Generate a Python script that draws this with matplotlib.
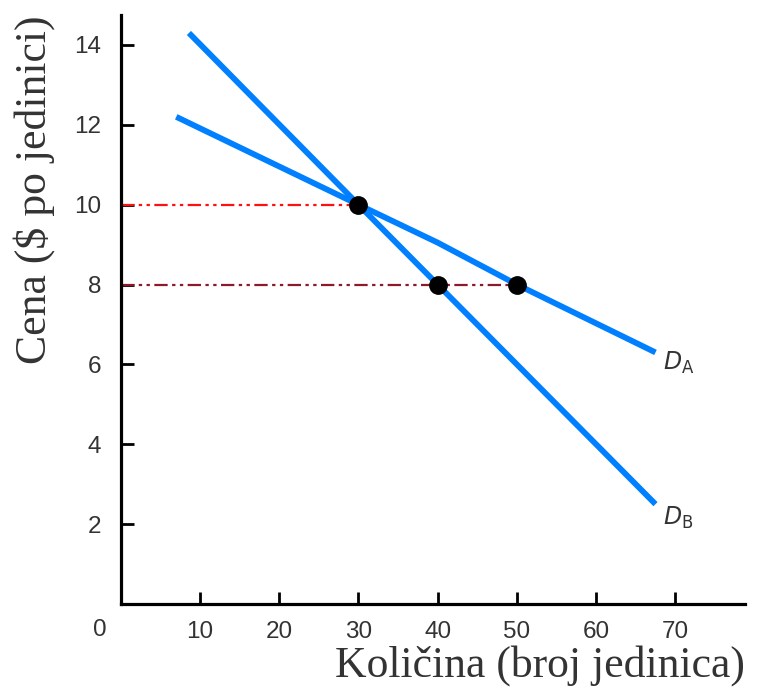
import matplotlib
matplotlib.use("Agg")
import matplotlib.pyplot as plt

# Data
qA = [7, 30, 40, 50, 67.5]
pA = [12.2, 10, 9.05, 8, 6.3]
qB = [8.6, 30, 40, 67.5]
pB = [14.3, 10, 8, 2.5]
points_q = [30, 40, 50]
points_p = [10, 8, 8]
xticks = [10, 20, 30, 40, 50, 60, 70]
yticks = [2, 4, 6, 8, 10, 12, 14]

fig = plt.figure(figsize=(7.6, 6.94), dpi=100)
ax = fig.add_axes([120.8/760, 1-604/694, (745-120.8)/760, (604-15)/694])
ax.set_xlim(0, 78.8)
ax.set_ylim(0, 14.75)

blue = "#0080ff"
# reference lines
ax.plot([0, 30], [10, 10], color="#ff1010", lw=1.6, dashes=(6, 2, 1.5, 2, 1.5, 2), zorder=2)
ax.plot([0, 50], [8, 8], color="#8b1a2a", lw=1.6, dashes=(6, 2, 1.5, 2, 1.5, 2), zorder=2)

ax.plot(qA, pA, color=blue, lw=4.2, solid_capstyle="butt", zorder=3)
ax.plot(qB, pB, color=blue, lw=4.2, solid_capstyle="butt", zorder=3)
ax.plot(points_q, points_p, "o", color="black", ms=12.5, zorder=4)

ax.text(68.5, 6.05, r"$\mathit{D}_{\mathrm{A}}$", fontsize=17, color="#333333", va="center", ha="left")
ax.text(68.5, 2.15, r"$\mathit{D}_{\mathrm{B}}$", fontsize=17, color="#333333", va="center", ha="left")

for s in ["top", "right"]:
    ax.spines[s].set_visible(False)
for s in ["left", "bottom"]:
    ax.spines[s].set_linewidth(2.3)
    ax.spines[s].set_color("black")

ax.set_xticks(xticks)
ax.set_yticks(yticks)
ax.tick_params(direction="in", length=9, width=2.0, color="black",
               labelsize=17.5, labelcolor="#333333", pad=12)
ax.tick_params(axis="y", pad=14)
for lbl in ax.get_xticklabels() + ax.get_yticklabels():
    lbl.set_family("Liberation Sans")

fig.text(100/760, 1-630/694, "0", fontsize=17.5, color="#333333", ha="center", va="center",
         family="Liberation Sans")

ax.set_xlabel("Količina (broj jedinica)", fontsize=31.5, family="Liberation Serif",
              color="#333333", loc="right", labelpad=2)
ax.set_ylabel("Cena ($ po jedinici)", fontsize=31.5, family="Liberation Serif",
              color="#333333", loc="top", labelpad=14)

fig.savefig("out.png", dpi=100)
